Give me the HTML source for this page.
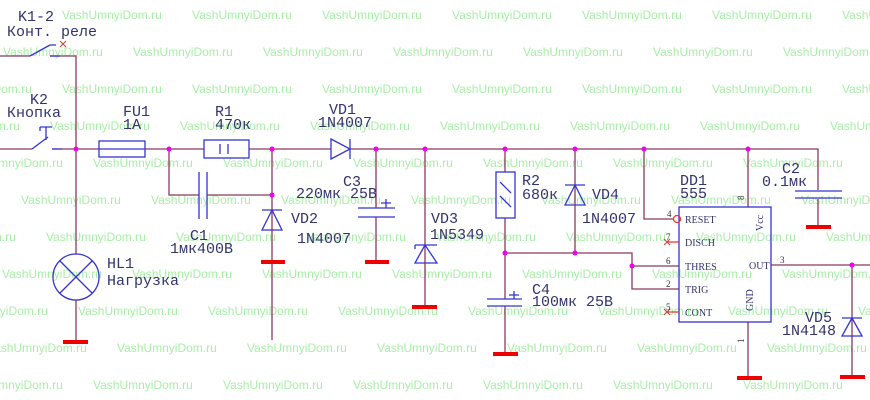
<!DOCTYPE html>
<html><head><meta charset="utf-8"><style>
html,body{margin:0;padding:0;background:#fff}
svg{display:block}
.w{fill:#a8eea8;font:12px "Liberation Sans",sans-serif}
.t{fill:#33336e;font:15px "Liberation Mono","DejaVu Sans Mono",monospace}
.p{fill:#33336e;font:10px "Liberation Serif",serif}
.n{fill:#333;font:9px "Liberation Serif",serif}
</style></head><body>
<svg width="870" height="400" viewBox="0 0 870 400" xmlns="http://www.w3.org/2000/svg">
<g class="w">
<text x="62" y="19">VashUmnyiDom.ru</text><text x="192" y="19">VashUmnyiDom.ru</text><text x="322" y="19">VashUmnyiDom.ru</text><text x="452" y="19">VashUmnyiDom.ru</text><text x="582" y="19">VashUmnyiDom.ru</text><text x="712" y="19">VashUmnyiDom.ru</text><text x="842" y="19">VashUmnyiDom.ru</text>
<text x="3" y="56">VashUmnyiDom.ru</text><text x="133" y="56">VashUmnyiDom.ru</text><text x="263" y="56">VashUmnyiDom.ru</text><text x="393" y="56">VashUmnyiDom.ru</text><text x="523" y="56">VashUmnyiDom.ru</text><text x="653" y="56">VashUmnyiDom.ru</text><text x="783" y="56">VashUmnyiDom.ru</text>
<text x="-68" y="93">VashUmnyiDom.ru</text><text x="62" y="93">VashUmnyiDom.ru</text><text x="192" y="93">VashUmnyiDom.ru</text><text x="322" y="93">VashUmnyiDom.ru</text><text x="452" y="93">VashUmnyiDom.ru</text><text x="582" y="93">VashUmnyiDom.ru</text><text x="712" y="93">VashUmnyiDom.ru</text><text x="842" y="93">VashUmnyiDom.ru</text>
<text x="-80" y="130">VashUmnyiDom.ru</text><text x="50" y="130">VashUmnyiDom.ru</text><text x="180" y="130">VashUmnyiDom.ru</text><text x="310" y="130">VashUmnyiDom.ru</text><text x="440" y="130">VashUmnyiDom.ru</text><text x="570" y="130">VashUmnyiDom.ru</text><text x="700" y="130">VashUmnyiDom.ru</text><text x="830" y="130">VashUmnyiDom.ru</text>
<text x="-37" y="167">VashUmnyiDom.ru</text><text x="93" y="167">VashUmnyiDom.ru</text><text x="223" y="167">VashUmnyiDom.ru</text><text x="353" y="167">VashUmnyiDom.ru</text><text x="483" y="167">VashUmnyiDom.ru</text><text x="613" y="167">VashUmnyiDom.ru</text><text x="743" y="167">VashUmnyiDom.ru</text>
<text x="21" y="204">VashUmnyiDom.ru</text><text x="151" y="204">VashUmnyiDom.ru</text><text x="281" y="204">VashUmnyiDom.ru</text><text x="411" y="204">VashUmnyiDom.ru</text><text x="541" y="204">VashUmnyiDom.ru</text><text x="671" y="204">VashUmnyiDom.ru</text><text x="801" y="204">VashUmnyiDom.ru</text>
<text x="-84" y="241">VashUmnyiDom.ru</text><text x="46" y="241">VashUmnyiDom.ru</text><text x="176" y="241">VashUmnyiDom.ru</text><text x="306" y="241">VashUmnyiDom.ru</text><text x="436" y="241">VashUmnyiDom.ru</text><text x="566" y="241">VashUmnyiDom.ru</text><text x="696" y="241">VashUmnyiDom.ru</text><text x="826" y="241">VashUmnyiDom.ru</text>
<text x="2" y="278">VashUmnyiDom.ru</text><text x="132" y="278">VashUmnyiDom.ru</text><text x="262" y="278">VashUmnyiDom.ru</text><text x="392" y="278">VashUmnyiDom.ru</text><text x="522" y="278">VashUmnyiDom.ru</text><text x="652" y="278">VashUmnyiDom.ru</text><text x="782" y="278">VashUmnyiDom.ru</text>
<text x="-52" y="315">VashUmnyiDom.ru</text><text x="78" y="315">VashUmnyiDom.ru</text><text x="208" y="315">VashUmnyiDom.ru</text><text x="338" y="315">VashUmnyiDom.ru</text><text x="468" y="315">VashUmnyiDom.ru</text><text x="598" y="315">VashUmnyiDom.ru</text><text x="728" y="315">VashUmnyiDom.ru</text><text x="858" y="315">VashUmnyiDom.ru</text>
<text x="-13" y="352">VashUmnyiDom.ru</text><text x="117" y="352">VashUmnyiDom.ru</text><text x="247" y="352">VashUmnyiDom.ru</text><text x="377" y="352">VashUmnyiDom.ru</text><text x="507" y="352">VashUmnyiDom.ru</text><text x="637" y="352">VashUmnyiDom.ru</text><text x="767" y="352">VashUmnyiDom.ru</text>
<text x="-37" y="389">VashUmnyiDom.ru</text><text x="93" y="389">VashUmnyiDom.ru</text><text x="223" y="389">VashUmnyiDom.ru</text><text x="353" y="389">VashUmnyiDom.ru</text><text x="483" y="389">VashUmnyiDom.ru</text><text x="613" y="389">VashUmnyiDom.ru</text><text x="743" y="389">VashUmnyiDom.ru</text>
</g>
<g stroke="#8b3a5e" stroke-width="1.3" fill="none">
<path d="M0 149H32M52 149H99M145 149H204M249 149H331M350 149H818V190M818 199V225"/>
<path d="M0 56H30M50 56H76V254M76 300V340"/>
<path d="M169 149V195H199M207 195H272V149M272 195V340M272 230V260"/>
<path d="M376 149V208M376 217V260M425 149V305"/>
<path d="M505 149V172M505 218V299M505 306V352M505 253H632V289H679M632 266H679M575 149V253"/>
<path d="M644 149V219H674M748 149V207M748 322V376M771 265H870M852 265V375"/>
</g>
<g fill="#ee0000">
<rect x="63" y="340" width="25" height="4"/><rect x="261" y="260" width="24" height="4"/><rect x="365" y="260" width="24" height="4"/><rect x="412" y="305" width="25" height="4"/><rect x="493" y="352" width="25" height="4"/><rect x="737" y="376" width="25" height="4"/><rect x="806" y="225" width="25" height="4"/><rect x="840" y="375" width="25" height="4"/>
</g>
<g stroke="#3434d0" stroke-width="1.3" fill="none">
<path d="M30 56L50 45M50 45H56M50 56H60"/>
<path d="M32 149L48 137M40 127H52M46 127V140M52 149H62M40 127V131"/>
<circle cx="76" cy="277" r="23"/><path d="M60 261L92 293M92 261L60 293"/>
<rect x="99" y="141" width="46" height="16"/><path d="M99 149H145"/>
<rect x="204" y="140" width="45" height="18"/><path d="M220 144V154M228 144V154"/>
<path d="M199 172V219M207 172V219"/>
<path d="M262 210H282M272 210L262 230H282Z"/>
<path d="M331 139V159L350 149Z M350 139V159"/>
<path d="M358 208H395M358 217H395M386 199V208M381 203H391"/>
<path d="M415 245H437M425 245L415 263H437Z M415 245V249"/>
<rect x="496" y="172" width="19" height="46"/><path d="M500 182L511 193M500 196L511 207"/>
<path d="M487 299H522M487 306H522M514 291V299M509 295H519"/>
<path d="M565 185H585M575 185L565 205H585Z"/>
<rect x="679" y="207" width="92" height="115"/>
<path d="M795 191H842M795 198H842"/>
<path d="M842 318H862M852 318L842 336H862Z"/>
</g>
<g stroke="#c04040" stroke-width="1"><path d="M60 41L66 47M66 41L60 47M664 239L670 245M670 239L664 245M664 309L670 315M670 309L664 315"/></g>
<circle cx="677" cy="219" r="3.5" fill="none" stroke="#e33" stroke-width="1.3"/>
<g stroke="#e33" stroke-width="1.2"><path d="M668 242H679M668 312H679"/></g>
<g fill="#ee00ee">
<circle cx="76" cy="149" r="2.5"/><circle cx="169" cy="149" r="2.5"/><circle cx="272" cy="149" r="2.5"/><circle cx="272" cy="195" r="2.5"/><circle cx="376" cy="149" r="2.5"/><circle cx="425" cy="149" r="2.5"/><circle cx="505" cy="149" r="2.5"/><circle cx="575" cy="149" r="2.5"/><circle cx="644" cy="149" r="2.5"/><circle cx="748" cy="149" r="2.5"/><circle cx="505" cy="253" r="2.5"/><circle cx="575" cy="253" r="2.5"/><circle cx="632" cy="266" r="2.5"/><circle cx="852" cy="265" r="2.5"/>
</g>
<g class="t">
<text x="18" y="21">K1-2</text><text x="7" y="36">Конт. реле</text>
<text x="30" y="104">K2</text><text x="7" y="117">Кнопка</text>
<text x="123" y="116">FU1</text><text x="123" y="129">1A</text>
<text x="215" y="116">R1</text><text x="215" y="129">470к</text>
<text x="318" y="127">1N4007</text><text x="329" y="114">VD1</text>
<text x="296" y="198">220мк 25В</text><text x="343" y="186">C3</text>
<text x="291" y="223">VD2</text><text x="297" y="243">1N4007</text>
<text x="190" y="240">C1</text><text x="170" y="253">1мк400В</text>
<text x="107" y="268">HL1</text><text x="107" y="285">Нагрузка</text>
<text x="431" y="223">VD3</text><text x="430" y="239">1N5349</text>
<text x="522" y="185">R2</text><text x="522" y="199">680к</text>
<text x="532" y="294">C4</text><text x="532" y="306">100мк 25В</text>
<text x="592" y="199">VD4</text><text x="582" y="223">1N4007</text>
<text x="680" y="185">DD1</text><text x="680" y="198">555</text>
<text x="782" y="173">C2</text><text x="762" y="186">0.1мк</text>
<text x="805" y="322">VD5</text><text x="782" y="335">1N4148</text>
</g>
<g class="p">
<text x="685" y="223">RESET</text><text x="685" y="246">DISCH</text><text x="685" y="270">THRES</text><text x="685" y="293">TRIG</text><text x="685" y="316">CONT</text><text x="749" y="269">OUT</text>
<text transform="translate(763,231) rotate(-90)">Vcc</text><text transform="translate(753,311) rotate(-90)">GND</text>
</g>
<g class="n">
<text x="667" y="217">4</text><text x="666" y="240">7</text><text x="666" y="264">6</text><text x="666" y="287">2</text><text x="666" y="310">5</text><text x="780" y="263">3</text>
<text transform="translate(744,200) rotate(-90)">8</text><text transform="translate(744,343) rotate(-90)">1</text>
</g>
</svg>
</body></html>
